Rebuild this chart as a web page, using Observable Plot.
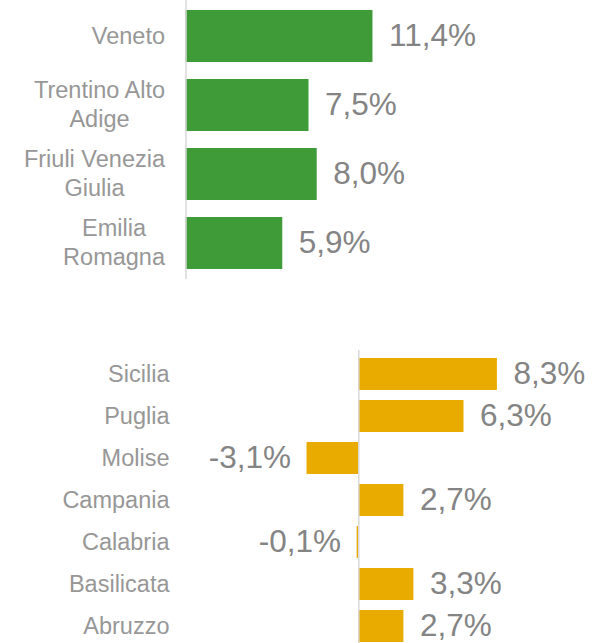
<!DOCTYPE html>
<html>
<head>
<meta charset="utf-8">
<script src="https://cdn.jsdelivr.net/npm/d3@7"></script>
<script src="https://cdn.jsdelivr.net/npm/@observablehq/plot@0.6"></script>
<style>
  html, body { margin: 0; padding: 0; background: #fff; }
  #wrap { position: relative; width: 592px; height: 643px; overflow: hidden; }
  #top { position: absolute; left: 0; top: 0; }
  #bottom { position: absolute; left: 0; top: 340px; }
</style>
</head>
<body>
<div id="wrap"><div id="top"></div><div id="bottom"></div></div>
<script>
// ---- data ----
const topRegions = ["Veneto", "Trentino Alto\nAdige", "Friuli Venezia\nGiulia", "Emilia\nRomagna"];
const topValues = [11.4, 7.5, 8.0, 5.9];
const bottomRegions = ["Sicilia", "Puglia", "Molise", "Campania", "Calabria", "Basilicata", "Abruzzo"];
const bottomValues = [8.3, 6.3, -3.1, 2.7, -0.1, 3.3, 2.7];

const FONT = "'Liberation Sans', Arial, sans-serif";
const LABEL_COLOR = "#979797";
const VALUE_COLOR = "#848484";
const fmt = v => v.toFixed(1).replace(".", ",") + "%";

function makeChart({regions, values, color, width, height, marginTop, marginLeft, xDomain, labelGap}) {
  const data = regions.map((r, i) => ({region: r, value: values[i]}));
  return Plot.plot({
    width, height,
    marginTop, marginBottom: 0, marginLeft, marginRight: 0,
    style: {fontFamily: FONT, background: "transparent", overflow: "visible"},
    x: {domain: xDomain, axis: null},
    y: {domain: regions, axis: null, paddingInner: 0.25, paddingOuter: 0.125},
    marks: [
      Plot.barX(data, {x: "value", y: "region", fill: color}),
      Plot.ruleX([0], {stroke: "#d9d9d9", strokeWidth: 1.5}),
      Plot.text(data, {
        y: "region", text: "region", frameAnchor: "left", dx: -labelGap, dy: -2,
        textAnchor: "end", fill: LABEL_COLOR, fontSize: 23.5, lineHeight: 1.2
      }),
      Plot.text(data.filter(d => d.value >= 0), {
        x: "value", y: "region", text: d => fmt(d.value), dx: 16, dy: -1,
        textAnchor: "start", fill: VALUE_COLOR, fontSize: 31.5
      }),
      Plot.text(data.filter(d => d.value < 0), {
        x: "value", y: "region", text: d => fmt(d.value), dx: -16, dy: -1,
        textAnchor: "end", fill: VALUE_COLOR, fontSize: 31.5
      })
    ]
  });
}

// Excel-style wrapped labels: each line centred within a right-aligned block
function centerMultiline(svg) {
  svg.querySelectorAll("text").forEach(t => {
    const spans = t.querySelectorAll("tspan");
    if (spans.length > 1) {
      let w = 0;
      spans.forEach(s => { w = Math.max(w, s.getComputedTextLength()); });
      t.setAttribute("text-anchor", "middle");
      t.style.textAnchor = "middle";
      spans.forEach(s => { s.setAttribute("text-anchor", "middle"); s.style.textAnchor = "middle"; });
      const tr = t.getAttribute("transform") || "";
      t.setAttribute("transform", (tr + ` translate(${-w / 2},0)`).trim());
    }
  });
}

const topZero = 185.5, topPx = 16.4;
const topChart = makeChart({
  regions: topRegions, values: topValues, color: "#3f9b37",
  width: 592, height: 279, marginTop: 0, marginLeft: topZero,
  xDomain: [0, (592 - topZero) / topPx], labelGap: 21
});
document.getElementById("top").appendChild(topChart);
centerMultiline(topChart);

const botZero = 358.3, botPx = 16.7, botLeft = 189;
const bottomChart = makeChart({
  regions: bottomRegions, values: bottomValues, color: "#e9ab00",
  width: 592, height: 310, marginTop: 10, marginLeft: botLeft,
  xDomain: [-(botZero - botLeft) / botPx, (592 - botZero) / botPx], labelGap: 20
});
document.getElementById("bottom").appendChild(bottomChart);
centerMultiline(bottomChart);
</script>
</body>
</html>
